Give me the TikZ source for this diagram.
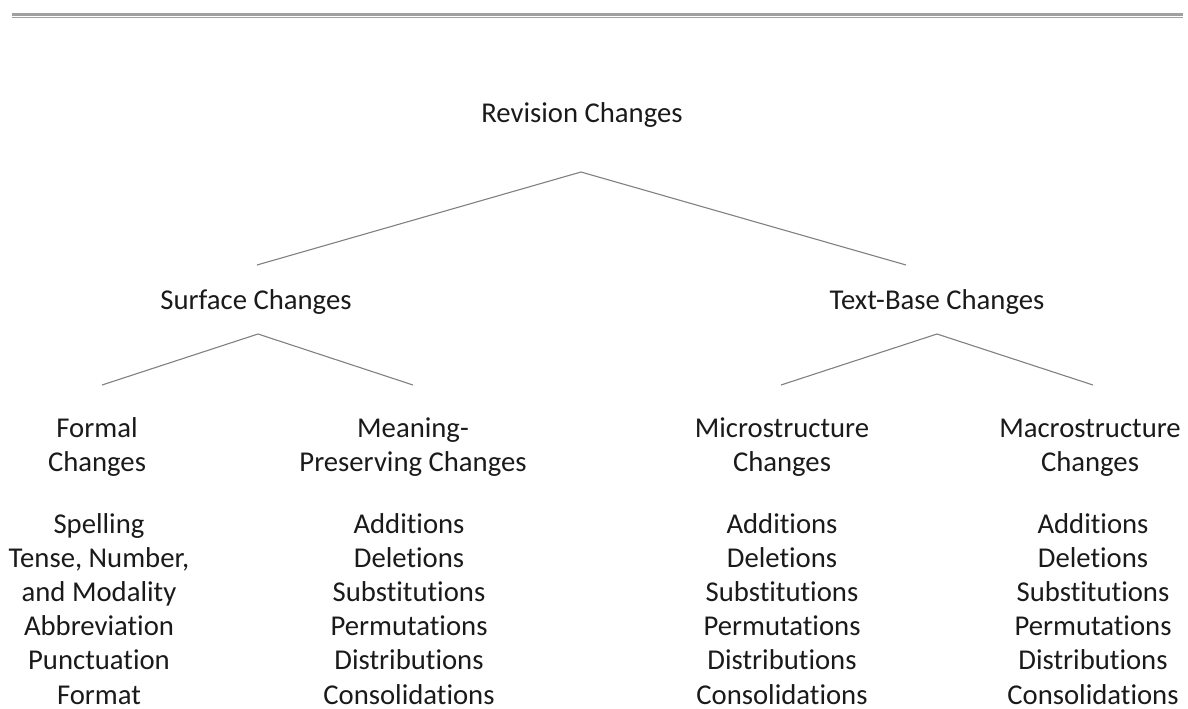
\documentclass[tikz,border=0pt]{standalone}
\usepackage{fontspec}
\setmainfont[RawFeature={-liga;-clig;-calt;-dlig}]{Carlito}
\definecolor{rulegray}{HTML}{A0A0A0}
\definecolor{linegray}{HTML}{808080}
\definecolor{txt}{HTML}{1A1A1A}
\begin{document}
\begin{tikzpicture}[x=1pt,y=-1pt,
  lbl/.style={font=\fontsize{28.7}{34.2}\selectfont, text=txt, inner sep=0pt, align=center, anchor=base},
  conn/.style={draw=linegray, line width=1.1pt}]
\useasboundingbox (0,0) rectangle (1188,709);
% top rule
\fill[rulegray] (12,12.7) rectangle (1183,16);
\fill[rulegray] (12,16.8) rectangle (1183,17.8);
% level 0
\node[lbl] (root) at (582,122) {Revision Changes};
% level 1
\node[lbl] (surface) at (256,309) {Surface Changes};
\node[lbl] (textbase) at (937,309) {Text-Base Changes};
% level 2 (anchor = baseline of last line)
\node[lbl] (formal) at (97,471.5) {Formal\\Changes};
\node[lbl] (meaning) at (413,471.5) {Meaning-\\Preserving Changes};
\node[lbl] (micro) at (782,471.5) {Microstructure\\Changes};
\node[lbl] (macro) at (1090,471.5) {Macrostructure\\Changes};
% lists
\node[lbl] (formallist) at (99,704) {Spelling\\Tense, Number,\\and Modality\\Abbreviation\\Punctuation\\Format};
\node[lbl] (meaninglist) at (409,704) {Additions\\Deletions\\Substitutions\\Permutations\\Distributions\\Consolidations};
\node[lbl] (microlist) at (782,704) {Additions\\Deletions\\Substitutions\\Permutations\\Distributions\\Consolidations};
\node[lbl] (macrolist) at (1093,704) {Additions\\Deletions\\Substitutions\\Permutations\\Distributions\\Consolidations};
% connector points
\coordinate (rootapex) at (581,172);
\coordinate (rootl) at (257,265);
\coordinate (rootr) at (906,265);
\coordinate (surfapex) at (258,334);
\coordinate (surfl) at (102,385);
\coordinate (surfr) at (413,385);
\coordinate (tbapex) at (937,334);
\coordinate (tbl) at (781,385);
\coordinate (tbr) at (1093,385);
\draw[conn] (rootl) -- (rootapex) -- (rootr);
\draw[conn] (surfl) -- (surfapex) -- (surfr);
\draw[conn] (tbl) -- (tbapex) -- (tbr);
\end{tikzpicture}
\end{document}
